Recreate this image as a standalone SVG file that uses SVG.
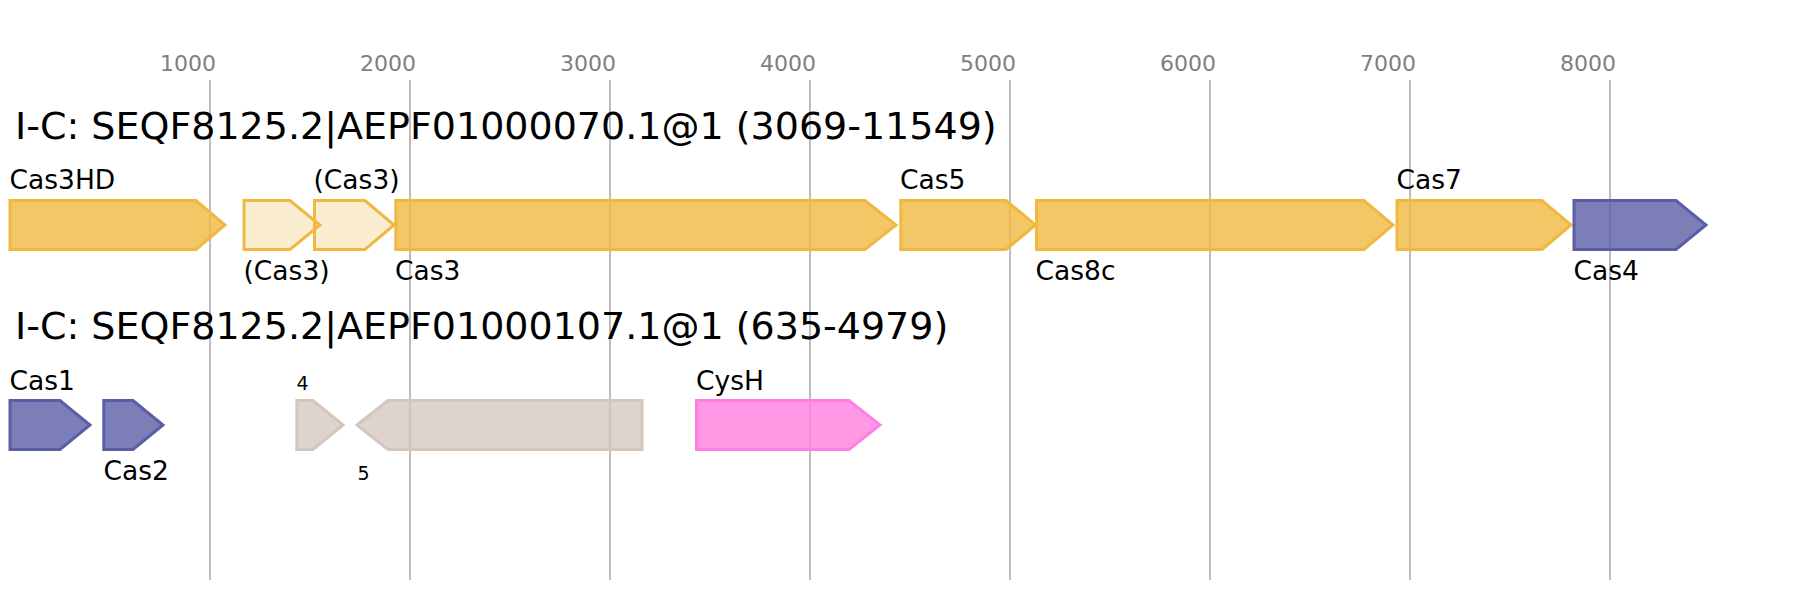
<svg xmlns="http://www.w3.org/2000/svg" width="1796" height="600" viewBox="0 0 1796 600">
<style>
  text { font-family: "DejaVu Sans", "Liberation Sans", sans-serif; }
  .tick { font-size: 22px; fill: #808080; text-anchor: middle; }
  .grid { stroke: #bdbdbd; stroke-width: 2; }
  .title { font-size: 38px; fill: #000; }
  .lbl { font-size: 26.5px; fill: #000; }
  .sm { font-size: 19px; fill: #000; }
  .gene { stroke-width: 3; fill-opacity: 0.8; stroke-linejoin: miter; }
  .cas3 { fill: #f0b840; stroke: #f0b840; }
  .cas3p { fill: #f0b840; fill-opacity: 0.25; stroke: #f0b840; }
  .blue { fill: #5b5ea6; stroke: #5b5ea6; }
  .gray { fill: #d3c6bc; stroke: #d3c6bc; fill-opacity: 0.75; }
  .pink { fill: #ff80e0; stroke: #ff80e0; }
</style>
<g id="axis">
  <line class="grid" x1="210" y1="80" x2="210" y2="580"/>
  <line class="grid" x1="410" y1="80" x2="410" y2="580"/>
  <line class="grid" x1="610" y1="80" x2="610" y2="580"/>
  <line class="grid" x1="810" y1="80" x2="810" y2="580"/>
  <line class="grid" x1="1010" y1="80" x2="1010" y2="580"/>
  <line class="grid" x1="1210" y1="80" x2="1210" y2="580"/>
  <line class="grid" x1="1410" y1="80" x2="1410" y2="580"/>
  <line class="grid" x1="1610" y1="80" x2="1610" y2="580"/>
  <text class="tick" x="188" y="70.5">1000</text>
  <text class="tick" x="388" y="70.5">2000</text>
  <text class="tick" x="588" y="70.5">3000</text>
  <text class="tick" x="788" y="70.5">4000</text>
  <text class="tick" x="988" y="70.5">5000</text>
  <text class="tick" x="1188" y="70.5">6000</text>
  <text class="tick" x="1388" y="70.5">7000</text>
  <text class="tick" x="1588" y="70.5">8000</text>
</g>
<text class="title" x="15" y="139">I-C: SEQF8125.2|AEPF01000070.1@1 (3069-11549)</text>
<text class="title" x="15" y="339">I-C: SEQF8125.2|AEPF01000107.1@1 (635-4979)</text>
<g id="connectors"></g>
<g id="gene-cas3hd">
  <polygon class="gene cas3" points="10,200.5 196,200.5 225,225 196,249.5 10,249.5"/>
  <text class="lbl" x="9.5" y="189">Cas3HD</text>
</g>
<g id="gene-cas3-partial-a">
  <polygon class="gene cas3p" points="244,200.5 290,200.5 320,225 290,249.5 244,249.5"/>
  <text class="lbl" x="243.5" y="280">(Cas3)</text>
</g>
<g id="gene-cas3-partial-b">
  <polygon class="gene cas3p" points="314.5,200.5 365,200.5 394,225 365,249.5 314.5,249.5"/>
  <text class="lbl" x="313.5" y="189">(Cas3)</text>
</g>
<g id="gene-cas3">
  <polygon class="gene cas3" points="395.8,200.5 865,200.5 896,225 865,249.5 395.8,249.5"/>
  <text class="lbl" x="395" y="280">Cas3</text>
</g>
<g id="gene-cas5">
  <polygon class="gene cas3" points="900.8,200.5 1006,200.5 1035.5,225 1006,249.5 900.8,249.5"/>
  <text class="lbl" x="900" y="189">Cas5</text>
</g>
<g id="gene-cas8c">
  <polygon class="gene cas3" points="1036.5,200.5 1364,200.5 1393,225 1364,249.5 1036.5,249.5"/>
  <text class="lbl" x="1035.5" y="280">Cas8c</text>
</g>
<g id="gene-cas7">
  <polygon class="gene cas3" points="1397,200.5 1542,200.5 1571,225 1542,249.5 1397,249.5"/>
  <text class="lbl" x="1396.5" y="189">Cas7</text>
</g>
<g id="gene-cas4">
  <polygon class="gene blue" points="1574,200.5 1676,200.5 1706,225 1676,249.5 1574,249.5"/>
  <text class="lbl" x="1573.5" y="280">Cas4</text>
</g>
<g id="gene-cas1">
  <polygon class="gene blue" points="10,400.5 60,400.5 90,425 60,449.5 10,449.5"/>
  <text class="lbl" x="9.5" y="390">Cas1</text>
</g>
<g id="gene-cas2">
  <polygon class="gene blue" points="103.8,400.5 133,400.5 163,425 133,449.5 103.8,449.5"/>
  <text class="lbl" x="103.5" y="479.5">Cas2</text>
</g>
<g id="gene-4">
  <polygon class="gene gray" points="296.8,400.5 313,400.5 343,425 313,449.5 296.8,449.5"/>
  <text class="sm" x="296.5" y="390">4</text>
</g>
<g id="gene-5">
  <polygon class="gene gray" points="357,425 388,400.5 642,400.5 642,449.5 388,449.5"/>
  <text class="sm" x="357.5" y="479.5">5</text>
</g>
<g id="gene-cysh">
  <polygon class="gene pink" points="696.5,400.5 849,400.5 880,425 849,449.5 696.5,449.5"/>
  <text class="lbl" x="696" y="390">CysH</text>
</g>
</svg>
